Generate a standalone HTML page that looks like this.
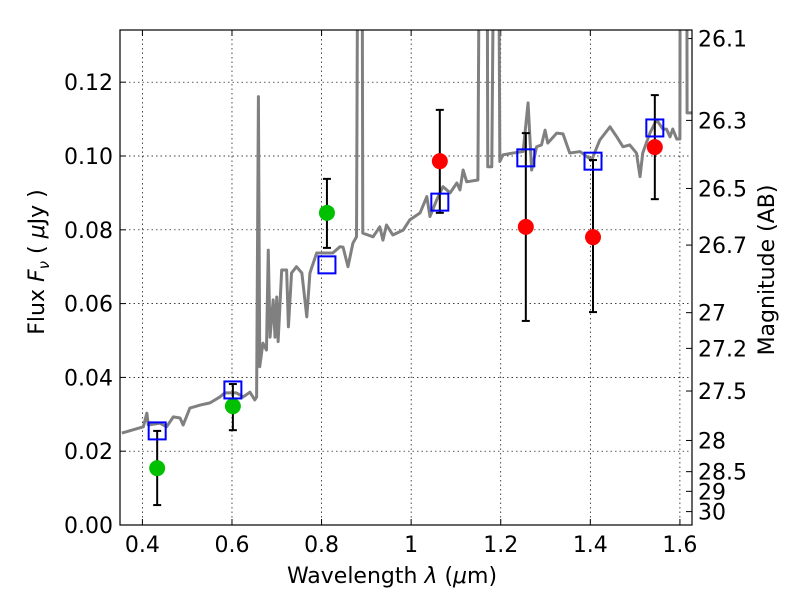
<!DOCTYPE html>
<html><head><meta charset="utf-8"><style>
body{margin:0;background:#fff;}
svg{display:block;font-family:"DejaVu Sans","Liberation Sans",sans-serif;}
</style></head><body>
<svg id="c" width="800" height="600"></svg>
<script>
const specLam=[0.354,0.402,0.410,0.413,0.439,0.454,0.469,0.484,0.491,0.506,0.529,0.551,0.573,0.584,0.610,0.625,0.640,0.651,0.655,0.659,0.662,0.669,0.677,0.681,0.685,0.692,0.696,0.700,0.703,0.711,0.722,0.726,0.733,0.744,0.756,0.767,0.774,0.789,0.811,0.825,0.841,0.848,0.859,0.870,0.878,0.882,0.890,0.892,0.915,0.930,0.937,0.945,0.959,0.982,0.997,1.020,1.035,1.042,1.057,1.071,1.087,1.102,1.109,1.116,1.124,1.149,1.154,1.169,1.171,1.180,1.187,1.194,1.198,1.205,1.227,1.250,1.261,1.269,1.280,1.291,1.299,1.305,1.325,1.339,1.354,1.377,1.403,1.421,1.444,1.459,1.473,1.488,1.503,1.511,1.517,1.533,1.548,1.562,1.570,1.578,1.584,1.593,1.600,1.601,1.615,1.616,1.63];
const specFlux=[0.0249,0.0266,0.0303,0.0271,0.0276,0.0266,0.0293,0.0290,0.0271,0.0317,0.0325,0.0331,0.0347,0.0358,0.0358,0.0347,0.0360,0.0339,0.0347,0.1161,0.0429,0.0493,0.0474,0.0745,0.0509,0.0610,0.0509,0.0618,0.0497,0.0691,0.0691,0.0537,0.0683,0.0700,0.0683,0.0564,0.0683,0.0737,0.0737,0.0737,0.0754,0.0753,0.0700,0.0764,0.0781,0.2,0.2,0.0791,0.0781,0.0808,0.0772,0.0813,0.0786,0.0799,0.0827,0.0846,0.0890,0.0836,0.0881,0.0917,0.0900,0.0927,0.0908,0.0962,0.0930,0.0935,0.2,0.2,0.0971,0.0971,0.2,0.2,0.0985,0.1003,0.1008,0.1012,0.1144,0.0962,0.1025,0.1030,0.1070,0.1035,0.1062,0.1060,0.1008,0.1012,0.0989,0.1043,0.1079,0.1052,0.1025,0.1030,0.1008,0.0944,0.1008,0.1062,0.1098,0.1073,0.1073,0.1052,0.1073,0.1046,0.1046,0.2,0.2,0.1117,0.1117];
const greenLam=[0.433,0.602,0.812];
const greenFlux=[0.0154,0.0322,0.0846];
const greenLo=[0.0054,0.0257,0.0751];
const greenHi=[0.0255,0.0382,0.0938];
const redLam=[1.064,1.256,1.406,1.544];
const redFlux=[0.0986,0.0808,0.0780,0.1024];
const redLo=[0.0846,0.0553,0.0577,0.0883];
const redHi=[0.1125,0.1062,0.0989,0.1165];
const modelLam=[0.433,0.602,0.812,1.064,1.256,1.406,1.544];
const modelFlux=[0.0255,0.0366,0.0705,0.0875,0.0995,0.0986,0.1076];
const xTicks=[0.4,0.6,0.8,1.0,1.2,1.4,1.6];
const xTickLabels=["0.4","0.6","0.8","1","1.2","1.4","1.6"];
const yTicks=[0,0.02,0.04,0.06,0.08,0.10,0.12];
const yTickLabels=["0.00","0.02","0.04","0.06","0.08","0.10","0.12"];
const magTicks=[26.1,26.3,26.5,26.7,27,27.2,27.5,28,28.5,29,30];
const magLabels=["26.1","26.3","26.5","26.7","27","27.2","27.5","28","28.5","29","30"];

const L=120,R=692,T=30,B=525,X0=0.35,X1=1.627,Y0=0,Y1=(B-T)/3690;
const sx=v=>L+(v-X0)/(X1-X0)*(R-L);
const sy=v=>B-(v-Y0)/(Y1-Y0)*(B-T);
const NS="http://www.w3.org/2000/svg";
const svg=document.getElementById('c');
function mk(t,a,p){const e=document.createElementNS(NS,t);for(const k in a)e.setAttribute(k,a[k]);(p||svg).appendChild(e);return e;}
const defs=mk('defs',{});const cp=mk('clipPath',{id:'clip'},defs);mk('rect',{x:L,y:T,width:R-L,height:B-T},cp);

const grid=mk('g',{});


xTicks.forEach((v,i)=>{
 mk('line',{x1:sx(v),x2:sx(v),y1:T,y2:B,stroke:'#000','stroke-width':0.7,'stroke-dasharray':'1.5,3'},grid);
 mk('line',{x1:sx(v),x2:sx(v),y1:B,y2:B-6,stroke:'#000'},grid);
 mk('line',{x1:sx(v),x2:sx(v),y1:T,y2:T+6,stroke:'#000'},grid);
 const t=mk('text',{x:sx(v),y:B+27,'text-anchor':'middle','font-size':22});t.textContent=xTickLabels[i];
 
 
});
yTicks.forEach((v,i)=>{
 if(v>0)mk('line',{x1:L,x2:R,y1:sy(v),y2:sy(v),stroke:'#000','stroke-width':0.7,'stroke-dasharray':'1.5,3'},grid);
 mk('line',{x1:L,x2:L+6,y1:sy(v),y2:sy(v),stroke:'#000'},grid);
 const t=mk('text',{x:L-7,y:sy(v)+8,'text-anchor':'end','font-size':22});t.textContent=yTickLabels[i];
 
 
});
magTicks.forEach((m,i)=>{
 const f=Math.pow(10,(23.9-m)/2.5);const y=sy(f);
 mk('line',{x1:R,x2:R-6,y1:y,y2:y,stroke:'#000'});
 const t=mk('text',{x:R+6,y:y+8,'font-size':22});t.textContent=magLabels[i];
 
 
});

const sp=mk('polyline',{points:specLam.map((v,i)=>sx(v)+','+sy(specFlux[i])).join(' '),fill:'none',stroke:'#808080','stroke-width':3,'stroke-linejoin':'round','clip-path':'url(#clip)'});



function errs(lam,lo,hi){lam.forEach((v,i)=>{
 const x=sx(v);
 const g=mk('g',{stroke:'#000','stroke-width':2});
 
 
 mk('line',{x1:x,x2:x,y1:sy(lo[i]),y2:sy(hi[i])},g);
 mk('line',{x1:x-4,x2:x+4,y1:sy(lo[i]),y2:sy(lo[i])},g);
 mk('line',{x1:x-4,x2:x+4,y1:sy(hi[i]),y2:sy(hi[i])},g);
});}
errs(greenLam,greenLo,greenHi);errs(redLam,redLo,redHi);
greenLam.forEach((v,i)=>{const c=mk('circle',{cx:sx(v),cy:sy(greenFlux[i]),r:8,fill:'#00c000'});
 
 });
redLam.forEach((v,i)=>{const c=mk('circle',{cx:sx(v),cy:sy(redFlux[i]),r:8,fill:'#ff0000'});
 
 });
modelLam.forEach((v,i)=>{const r=mk('rect',{x:sx(v)-8.5,y:sy(modelFlux[i])-8.5,width:17,height:17,fill:'none',stroke:'#0000ff','stroke-width':2});
 
 });

const fr=mk('rect',{x:L,y:T,width:R-L,height:B-T,fill:'none',stroke:'#000','stroke-width':1.2});


</script>
<svg style="position:absolute;left:0;top:0" width="800" height="600">
<text x="392" y="583" text-anchor="middle" font-size="22" font-family="DejaVu Sans,Liberation Sans,sans-serif">Wavelength  <tspan font-style="italic">λ</tspan> (<tspan font-style="italic">μ</tspan>m)</text>
<text transform="translate(44,262) rotate(-90)" text-anchor="middle" font-size="22" font-family="DejaVu Sans,Liberation Sans,sans-serif">Flux  <tspan font-style="italic">F</tspan><tspan font-style="italic" font-size="15" dy="5">ν</tspan><tspan dy="-5">  (  </tspan><tspan font-style="italic">μ</tspan>Jy )</text>
<text transform="translate(774,270) rotate(-90)" text-anchor="middle" font-size="22" font-family="DejaVu Sans,Liberation Sans,sans-serif">Magnitude (AB)</text>
</svg>
</body></html>
